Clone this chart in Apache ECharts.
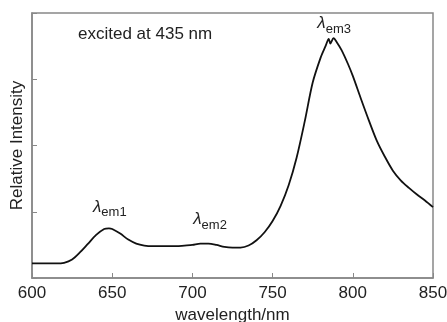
<!DOCTYPE html>
<html>
<head>
<meta charset="utf-8">
<script src="https://cdn.jsdelivr.net/npm/echarts@6/dist/echarts.min.js"></script>
<style>
  html, body { margin: 0; padding: 0; background: #fff; }
  #chart { width: 447px; height: 322px; }
</style>
</head>
<body>
<div id="chart"></div>
<script>
// emission spectrum
const wavelengths = [600, 605, 610, 615, 620, 625, 630, 635, 640, 645, 648, 650, 655, 660, 665, 670, 675, 680, 685, 690,
  695, 700, 705, 710, 715, 720, 725, 730, 735, 740, 745, 750, 755, 760, 765, 770, 775, 780, 783, 785,
  786, 788, 790, 793, 797, 800, 805, 810, 815, 820, 825, 830, 835, 840, 845, 850];
const intensity = [0.22, 0.22, 0.22, 0.22, 0.23, 0.28, 0.39, 0.52, 0.65, 0.74, 0.75, 0.74, 0.67, 0.58, 0.52, 0.49, 0.48, 0.48, 0.48, 0.48,
  0.49, 0.50, 0.52, 0.52, 0.50, 0.47, 0.46, 0.46, 0.49, 0.57, 0.69, 0.86, 1.09, 1.40, 1.82, 2.36, 2.95, 3.33, 3.50, 3.61,
  3.54, 3.62, 3.56, 3.44, 3.23, 3.05, 2.71, 2.38, 2.07, 1.83, 1.62, 1.47, 1.36, 1.26, 1.17, 1.07];
const xTicks = [600, 650, 700, 750, 800, 850];

const chart = echarts.init(document.getElementById('chart'), null, {renderer: 'canvas'});
const font = 'Liberation Sans, Arial, sans-serif';
const textColor = '#222';
const frameColor = '#888';

const option = {
  animation: false,
  grid: {
    left: 32,
    right: 14,
    top: 13,
    bottom: 44,
    outerBoundsMode: 'none',
    containLabel: false,
    show: true,
    borderColor: frameColor,
    borderWidth: 1.5
  },
  xAxis: {
    type: 'value',
    min: xTicks[0],
    max: xTicks[xTicks.length - 1],
    interval: 50,
    name: 'wavelength/nm',
    nameLocation: 'middle',
    nameGap: 24,
    nameTextStyle: {color: textColor, fontSize: 17, fontFamily: font},
    axisLine: {lineStyle: {color: frameColor, width: 1.5}},
    axisTick: {inside: true, length: 5, lineStyle: {color: frameColor}},
    axisLabel: {color: textColor, fontSize: 17, fontFamily: font, margin: 7},
    splitLine: {show: false}
  },
  yAxis: {
    type: 'value',
    min: 0,
    max: 4,
    interval: 1,
    name: 'Relative Intensity',
    nameLocation: 'middle',
    nameGap: 6,
    nameTextStyle: {color: textColor, fontSize: 17, fontFamily: font},
    axisLine: {show: true, lineStyle: {color: frameColor, width: 1.5}},
    axisTick: {inside: true, length: 5, lineStyle: {color: frameColor}},
    axisLabel: {show: false},
    splitLine: {show: false}
  },
  series: [{
    type: 'line',
    data: wavelengths.map((w, i) => [w, intensity[i]]),
    showSymbol: false,
    smooth: 0.3,
    lineStyle: {color: '#111', width: 1.8}
  }],
  graphic: [
    {
      type: 'text', left: 78, top: 26,
      style: {text: 'excited at 435 nm', fill: textColor, font: '17px ' + font}
    }
  ]
};

chart.setOption(option);

// peak labels, anchored just above the peaks
const peaks = [
  {wl: 648, val: 0.75, label: 'em1', dx: -16, dy: -30},
  {wl: 708, val: 0.52, label: 'em2', dx: -12, dy: -33},
  {wl: 786, val: 3.62, label: 'em3', dx: -13, dy: -23}
];
const extra = peaks.map(p => {
  const pt = chart.convertToPixel({gridIndex: 0}, [p.wl, p.val]);
  return {
    type: 'text',
    x: pt[0] + p.dx,
    y: pt[1] + p.dy,
    style: {
      text: '{l|λ}{s|' + p.label + '}',
      rich: {
        l: {fontSize: 17, fontStyle: 'italic', fontFamily: font, fill: textColor, verticalAlign: 'top', lineHeight: 20},
        s: {fontSize: 13, fontFamily: font, fill: textColor, padding: [9, 0, 0, 0], lineHeight: 20}
      }
    }
  };
});
chart.setOption({graphic: option.graphic.concat(extra)});
</script>
</body>
</html>
